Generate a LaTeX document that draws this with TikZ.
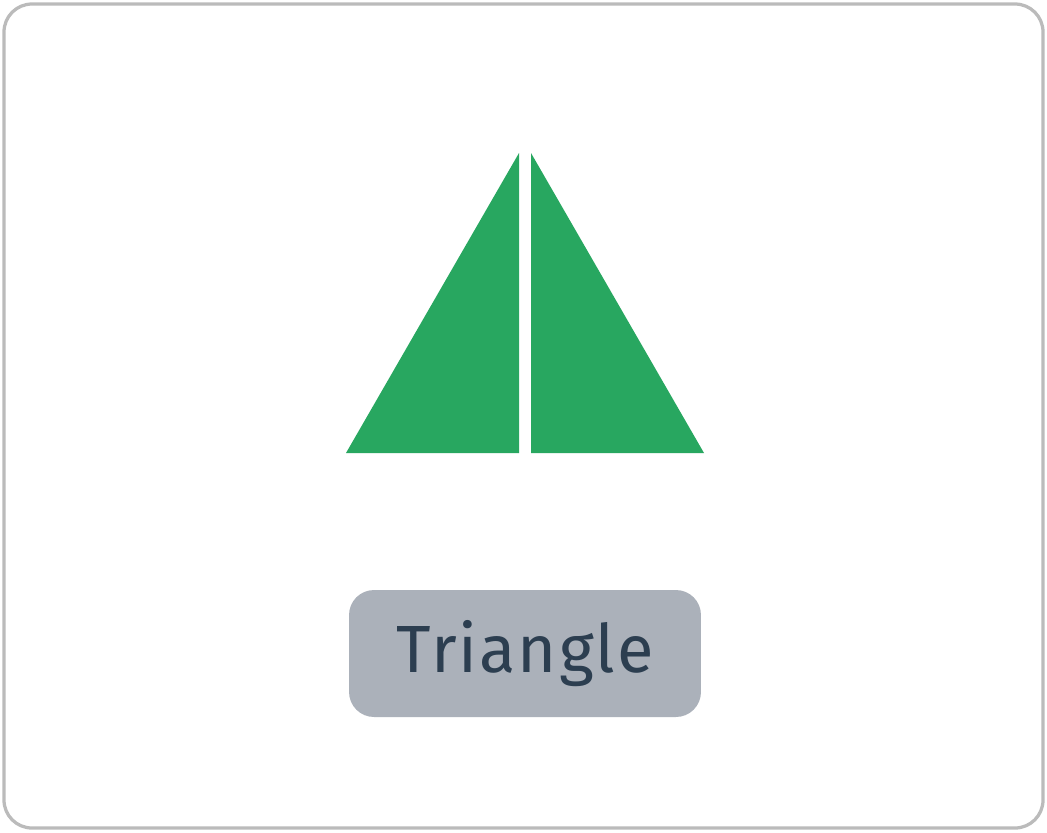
\documentclass[tikz,border=0pt]{standalone}
\usepackage{fontspec}
\setmainfont{Fira Sans}
\usetikzlibrary{positioning}
\definecolor{framegray}{RGB}{187,187,187}
\definecolor{shapegreen}{RGB}{40,167,96}
\definecolor{tagfill}{RGB}{171,177,186}
\definecolor{tagtext}{RGB}{44,62,80}
\begin{document}
\begin{tikzpicture}[
        x=0.02cm,y=-0.02cm,
        frame/.style={draw=framegray,line width=0.065cm,rounded corners=0.56cm,fill=white},
        half/.style={fill=shapegreen,draw=none},
        tag/.style={fill=tagfill,rounded corners=0.5cm,minimum width=7.04cm,
                    minimum height=2.54cm,inner sep=0pt,text=tagtext,
                    font=\fontsize{38}{44}\selectfont\addfontfeatures{LetterSpace=3}},
      ]
        \useasboundingbox (0,0) rectangle (1047,832);
        \draw[frame] (4,4) rectangle (1043,828);
        % two halves of the triangle
        \fill[half] (346,453) -- (519,453) -- (519,153) -- cycle;
        \fill[half] (531,153) -- (531,453) -- (704,453) -- cycle;
        \node[tag] (lbl) at (525,653.5) {Triangle};
      \end{tikzpicture}
\end{document}
